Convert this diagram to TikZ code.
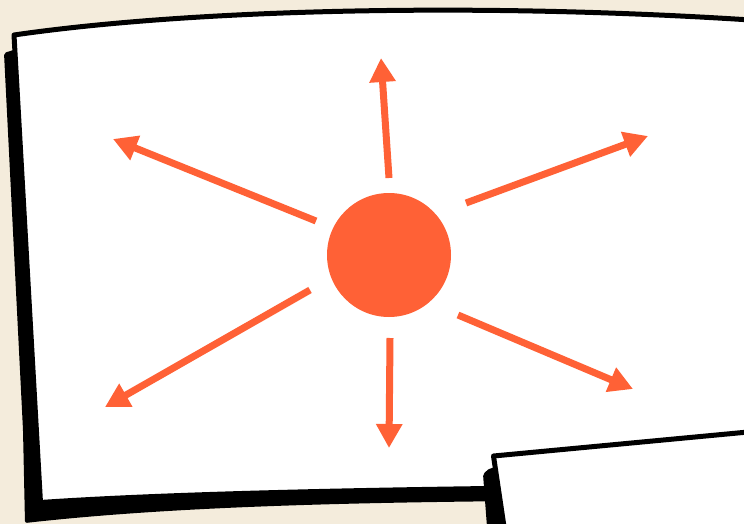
\documentclass[tikz,border=0pt]{standalone}
\usetikzlibrary{arrows.meta}
\definecolor{bgbeige}{HTML}{F4ECDC}
\definecolor{sunorange}{HTML}{FF6136}
\tikzset{
  cardbox/.style={fill=white,draw=black,line width=5pt,line join=round},
  shadowbox/.style={fill=black,draw=none,rounded corners=2pt},
  ray/.style={draw=sunorange,line width=7pt,-{Triangle[width=25pt,length=24pt]}},
}
\begin{document}
\begin{tikzpicture}[x=1pt,y=-1pt]
\useasboundingbox (0,0) rectangle (744,524);
\fill[bgbeige] (0,0) rectangle (744,524);
% main card shadow
\path[shadowbox] (4,53) -- (23,430) -- (25,523)
  .. controls (150,509) and (300,503) .. (520,501) -- (520,60) -- (20,48) -- cycle;
% main card
\path[cardbox] (14,35) .. controls (200,8) and (500,2) .. (780,22)
  -- (780,486) .. controls (350,488) and (150,495) .. (40.5,502.5) -- cycle;
% second card shadow
\path[shadowbox] (483,474) -- (488,540) -- (600,540) -- (600,466) -- (490,468) -- cycle;
% second card
\path[cardbox] (493.5,456) -- (780,429) -- (780,540) -- (506,540) -- cycle;
% sun and rays
\node[circle,fill=sunorange,minimum size=124pt,inner sep=0pt] (sun) at (389,255) {};
\coordinate (s1) at (389,178);   \coordinate (t1) at (381,58);
\coordinate (s2) at (466,203);   \coordinate (t2) at (648,136);
\coordinate (s3) at (316,221);   \coordinate (t3) at (113,139);
\coordinate (s4) at (310,290);   \coordinate (t4) at (105,407);
\coordinate (s5) at (390,338);   \coordinate (t5) at (389,448);
\coordinate (s6) at (458,315);   \coordinate (t6) at (633,389);
\draw[ray] (s1) -- (t1);
\draw[ray] (s2) -- (t2);
\draw[ray] (s3) -- (t3);
\draw[ray] (s4) -- (t4);
\draw[ray] (s5) -- (t5);
\draw[ray] (s6) -- (t6);
\end{tikzpicture}
\end{document}
